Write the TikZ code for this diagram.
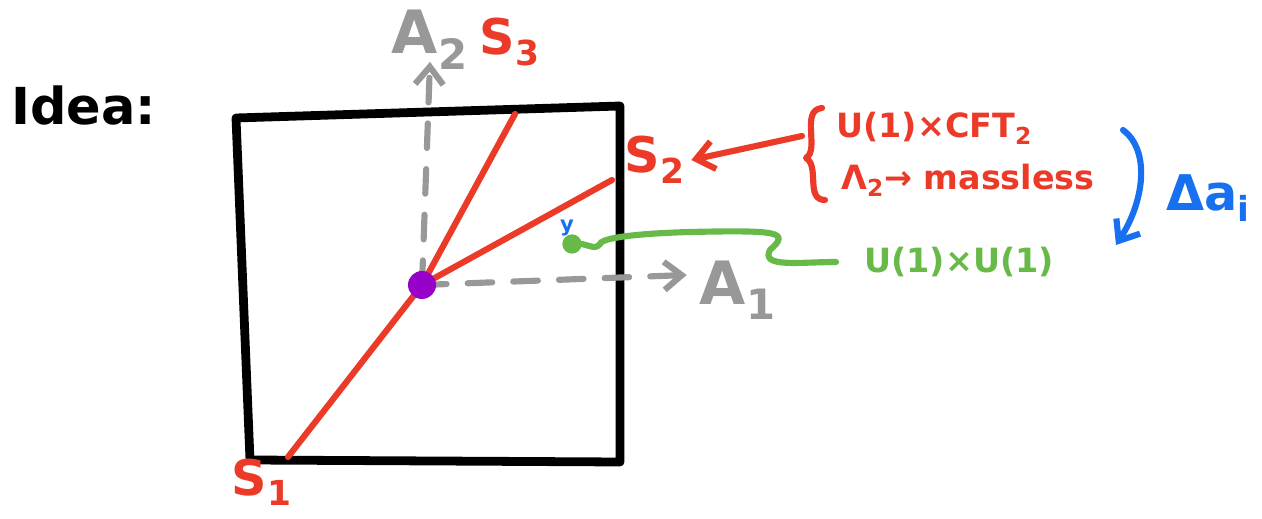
\documentclass[tikz,border=0pt]{standalone}
\usepackage{fontspec}
\setmainfont{DejaVu Sans}
\usetikzlibrary{arrows.meta}

\definecolor{pen red}{RGB}{236,58,40}
\definecolor{pen gray}{RGB}{152,152,152}
\definecolor{pen green}{RGB}{104,186,72}
\definecolor{pen blue}{RGB}{22,112,240}
\definecolor{pen purple}{RGB}{150,0,200}

\newcommand{\sub}[1]{\textsubscript{#1}}

\tikzset{
    ink/.style={line width=5pt, line cap=round, line join=round},
    thinink/.style={line width=3.5pt, line cap=round, line join=round},
    big/.style={font=\bfseries\fontsize{34}{38}\selectfont},
    mid/.style={font=\bfseries\fontsize{28}{32}\selectfont},
    small/.style={font=\bfseries\fontsize{19}{24}\selectfont},
    tip/.style={-{Straight Barb[length=10pt,width=16pt]}},
}

\begin{document}
\begin{tikzpicture}[x=0.02cm, y=-0.02cm]
    \useasboundingbox (0,0) rectangle (1262,519);

    % title
    \node[font=\bfseries\fontsize{29}{32}\selectfont, anchor=west] (idea) at (5,106) {Idea:};

    % the square
    \draw[ink, black] (236,118) -- (620,106) -- (620,462) -- (250,460) -- cycle;

    % the origin and the three lines
    \coordinate (o) at (422,285);
    \coordinate (e1) at (288,457);
    \coordinate (e3) at (515,114);
    \coordinate (e2) at (612,180);
    \draw[thinink, pen red] (o) -- (e1);
    \draw[thinink, pen red] (o) -- (e3);
    \draw[thinink, pen red] (o) -- (e2);

    % axes
    \node[big, text=pen gray] (a2) at (430,40) {A\sub{2}};
    \node[big, text=pen gray] (a1) at (738,290) {A\sub{1}};
    \draw[thinink, pen gray, dashed, dash pattern=on 14pt off 12pt, tip] (o) -- ([yshift=8pt]a2.south);
    \draw[thinink, pen gray, dashed, dash pattern=on 14pt off 12pt, tip] (o) -- ([xshift=-4pt]a1.west |- 0,275);

    \fill[pen purple] (o) circle (0.28cm);

    % labels of the lines
    \node[mid, text=pen red] (s3) at (510,42) {S\sub{3}};
    \node[mid, text=pen red] (s2) at (655,160) {S\sub{2}};
    \node[mid, text=pen red] (s1) at (262,482) {S\sub{1}};

    % what sits on S_2
    \node[small, text=pen red, anchor=west] (cft) at (830,128) {U(1)×CFT\sub{2}};
    \node[small, text=pen red, anchor=west] (mless) at (835,180) {Λ\sub{2}→ massless};
    \draw[thinink, pen red] (cft.west) ++(-8,-20) .. controls (800,110) and (820,150) .. (806,158)
        .. controls (820,166) and (805,200) .. (825,200);
    \draw[thinink, pen red, tip] (cft.west) ++(-28,8) -- (s2.east);

    % generic point
    \node[circle, fill=pen green, inner sep=0pt, minimum size=11pt] (pt) at (572,244) {};
    \node[font=\bfseries\fontsize{12}{12}\selectfont, text=pen blue] (yy) at (567,228) {y};
    \node[small, text=pen green, anchor=west] (uu) at (858,262) {U(1)×U(1)};
    \draw[thinink, pen green] (uu.west) ++(-22,0) .. controls (800,262) and (760,268) .. (770,250)
        .. controls (790,232) and (780,230) .. (690,232) .. controls (620,234) and (600,240) .. (600,244)
        .. controls (596,248) .. (pt.east);

    % flow
    \node[mid, text=pen blue] (da) at (1208,198) {Δa\sub{i}};
    \draw[thinink, pen blue, tip] (1123,130) .. controls (1150,150) and (1145,200) .. (1116,245);
\end{tikzpicture}
\end{document}
